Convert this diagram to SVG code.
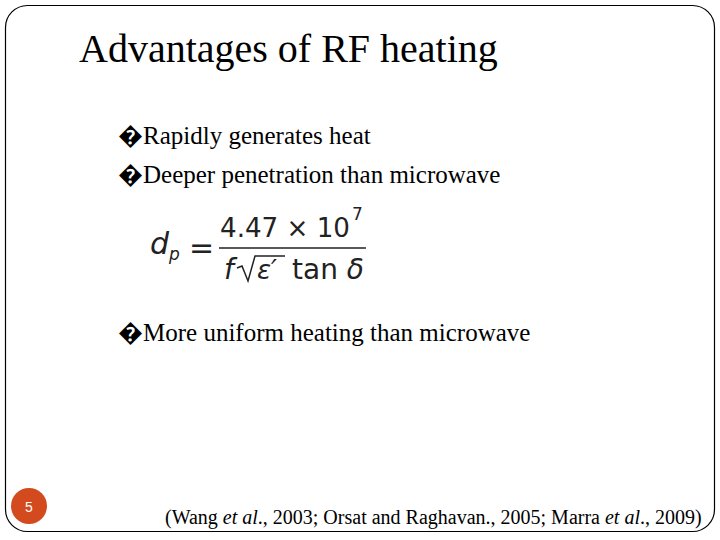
<svg xmlns="http://www.w3.org/2000/svg" width="720" height="540" viewBox="0 0 720 540">
<style>
.t{font-family:"Liberation Serif",serif;fill:#000}
.m{font-family:"DejaVu Sans",sans-serif;fill:#222}
</style>
<rect width="720" height="540" fill="#fff"/>
<rect x="5.5" y="5.5" width="709" height="526" rx="22" fill="none" stroke="#000" stroke-width="1.2"/>
<g id="title"><text class="t" x="79" y="62" font-size="40">Advantages of RF heating</text></g>
<g id="bullets">
<text class="t" x="118" y="144" font-size="25">�Rapidly generates heat</text>
<text class="t" x="118" y="183" font-size="25">�Deeper penetration than microwave</text>
<text class="t" x="118" y="341" font-size="25">�More uniform heating than microwave</text>
</g>
<g id="formula">
<text class="m" x="150" y="254" font-size="30" font-style="italic">d</text>
<text class="m" x="169" y="260" font-size="17" font-style="italic">p</text>
<text class="m" x="189" y="258" font-size="30" fill="#999">=</text>
<text class="m" x="220" y="237" font-size="26" textLength="130" lengthAdjust="spacingAndGlyphs">4.47 × 10</text>
<text class="m" x="352" y="220" font-size="17">7</text>
<line x1="219" y1="248" x2="366" y2="248" stroke="#222" stroke-width="1.5"/>
<text class="m" x="224" y="279" font-size="28" font-style="italic">f</text>
<path d="M237 268 L242 266 L248 281 L255 256 L285 256" fill="none" stroke="#222" stroke-width="1.5"/>
<text class="m" x="257" y="279" font-size="26" font-style="italic">ε′</text>
<text class="m" x="292" y="279" font-size="28">tan <tspan font-style="italic">δ</tspan></text>
</g>
<g id="page"><circle cx="29" cy="506" r="18" fill="#D24A1E"/><text x="29" y="512" font-family="Liberation Sans,sans-serif" font-size="14" fill="#fff" text-anchor="middle">5</text></g>
<g id="ref"><text class="t" x="165" y="524" font-size="20">(Wang <tspan font-style="italic">et al</tspan>., 2003; Orsat and Raghavan., 2005; Marra <tspan font-style="italic">et al</tspan>., 2009)</text></g>
<g id="connectors"/>
</svg>
